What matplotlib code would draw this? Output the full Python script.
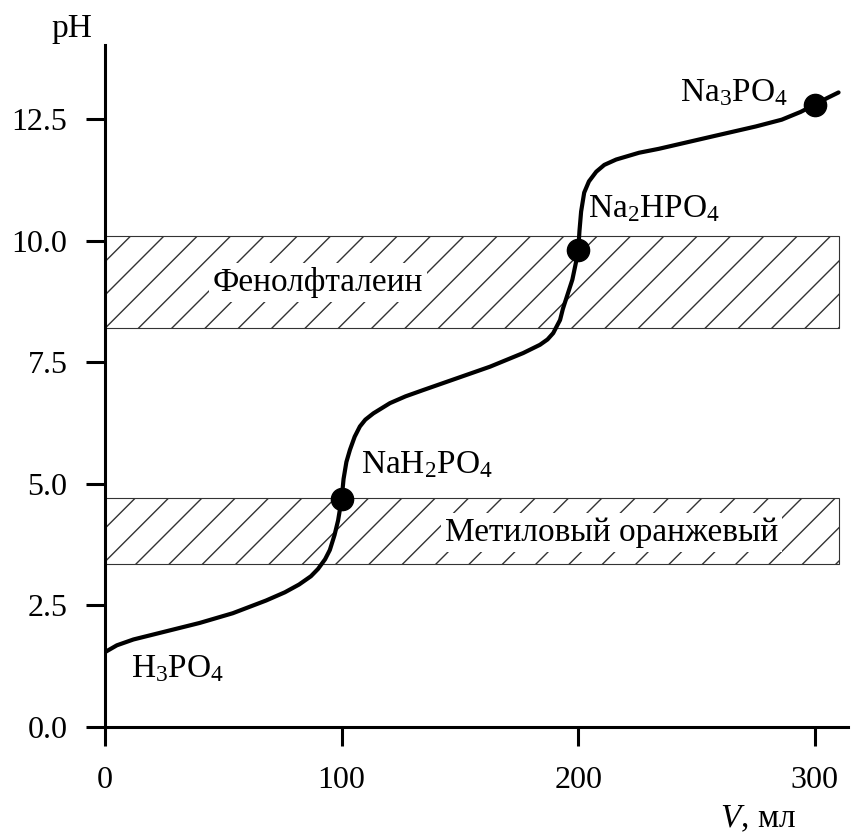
import matplotlib
matplotlib.use("Agg")
import matplotlib.pyplot as plt

plt.rcParams['font.family'] = ['Liberation Serif', 'DejaVu Serif']
plt.rcParams['mathtext.fontset'] = 'custom'
plt.rcParams['mathtext.rm'] = 'Liberation Serif'
plt.rcParams['mathtext.it'] = 'Liberation Serif:italic'
plt.rcParams['hatch.linewidth'] = 1.0

# кривая титрования
v_ml = [0, 5, 12, 26, 40, 54, 68, 76, 82, 87, 90, 93, 95, 97, 98.5, 100,
        100.8, 102, 103.5, 105.5, 107.7, 110, 113.4, 120.4, 127, 134.5, 148.6,
        162.7, 176.7, 183.8, 187, 189.4, 191, 192.3, 193.5, 195.5, 197.5, 199,
        200, 200.5, 201.2, 202.5, 204.5, 207.6, 211, 216, 225.7, 234, 258, 275,
        286, 294, 300, 305, 310]
ph = [1.54, 1.68, 1.80, 1.97, 2.14, 2.34, 2.60, 2.77, 2.93, 3.10, 3.25, 3.45,
      3.64, 3.95, 4.25, 4.69, 5.1, 5.45, 5.70, 5.97, 6.18, 6.32, 6.45, 6.66,
      6.80, 6.93, 7.17, 7.41, 7.69, 7.86, 7.97, 8.10, 8.25, 8.37, 8.6, 8.9,
      9.2, 9.55, 9.81, 10.2, 10.6, 10.99, 11.22, 11.42, 11.56, 11.67, 11.81,
      11.89, 12.16, 12.35, 12.49, 12.65, 12.8, 12.93, 13.05]

# точки эквивалентности
eq_v = [100, 200, 300]
eq_ph = [4.69, 9.81, 12.8]

# зоны индикаторов
ind_names = ["Фенолфталеин", "Метиловый оранжевый"]
ind_lo = [8.2, 3.35]
ind_hi = [10.1, 4.7]
ind_text_x = [90, 214]
ind_text_y = [9.15, 4.0]

# подписи солей
salt_labels = [r'H$_3$PO$_4$', r'NaH$_2$PO$_4$', r'Na$_2$HPO$_4$', r'Na$_3$PO$_4$']
salt_x = [11, 108, 204, 243]
salt_y = [1.2, 5.4, 10.65, 13.05]

fig = plt.figure(figsize=(8.54, 8.34), dpi=100)
ax = fig.add_axes([0.123, 0.1283, 0.870, 0.818])

ax.bar([0, 0], [h - l for h, l in zip(ind_hi, ind_lo)], bottom=ind_lo, width=310,
       align='edge', facecolor='white', edgecolor='#333333', linewidth=0.8,
       hatch='/', zorder=1)
for name, tx, ty in zip(ind_names, ind_text_x, ind_text_y):
    ax.text(tx, ty, name, fontsize=24, ha='center', va='center', zorder=2,
            bbox=dict(facecolor='white', edgecolor='none', pad=3))

ax.plot(v_ml, ph, color='black', linewidth=3, zorder=3,
        solid_capstyle='round', solid_joinstyle='round')
ax.plot(eq_v, eq_ph, 'o', color='black', markersize=16, zorder=4)

for lab, sx, sy in zip(salt_labels, salt_x, salt_y):
    ax.text(sx, sy, lab, fontsize=24, ha='left', va='center', zorder=5)

ax.set_xlim(0, 314)
ax.set_ylim(0, 14.03)
ax.set_xticks([0, 100, 200, 300])
ax.set_yticks([0, 2.5, 5.0, 7.5, 10.0, 12.5])
ax.set_yticklabels(['0.0', '2.5', '5.0', '7.5', '10.0', '12.5'])
ax.tick_params(axis='both', direction='out', length=14, width=2.2, labelsize=23)
ax.tick_params(axis='x', pad=14)
ax.tick_params(axis='y', pad=13)
for s in ['top', 'right']:
    ax.spines[s].set_visible(False)
for s in ['left', 'bottom']:
    ax.spines[s].set_linewidth(2.2)

ax.text(-14, 14.18, 'pH', fontsize=24, ha='center', va='baseline', clip_on=False)
ax.text(276, -2.06, r'$V$, мл', fontsize=24, ha='center', va='baseline', clip_on=False)

fig.savefig('out.png', dpi=100)
